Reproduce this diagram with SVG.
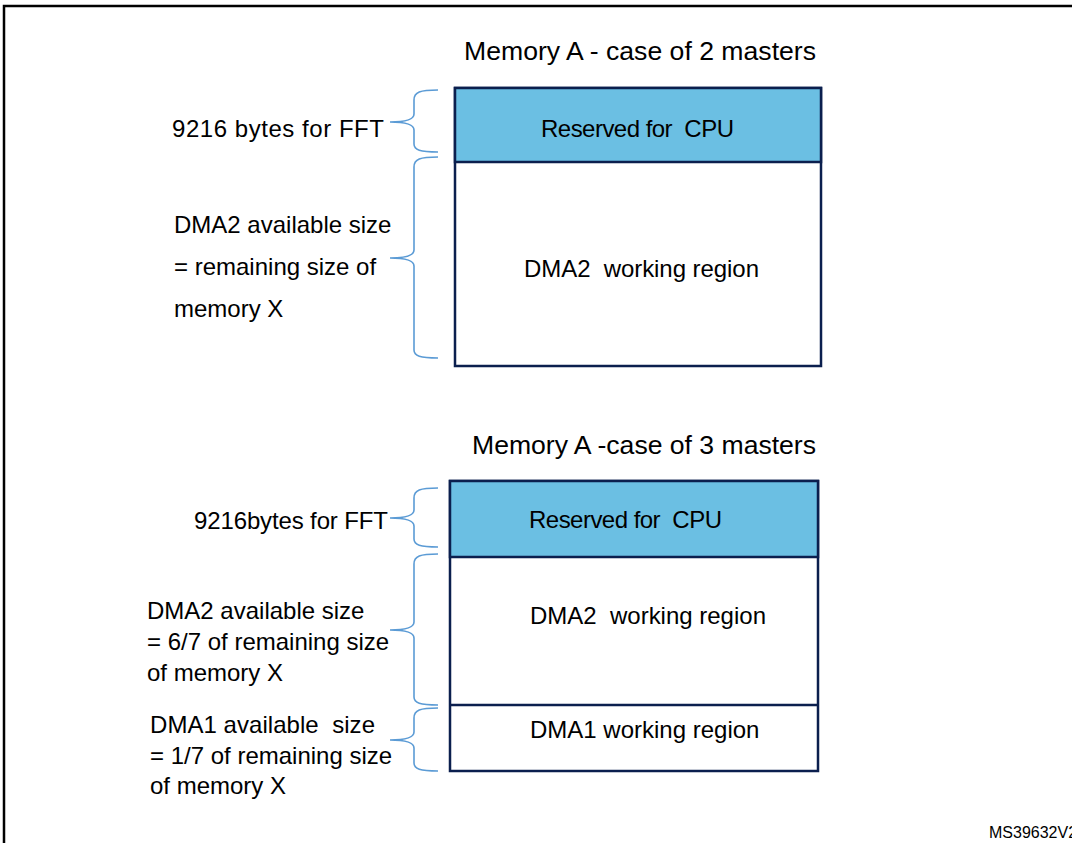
<svg xmlns="http://www.w3.org/2000/svg" width="1072" height="843" viewBox="0 0 1072 843">
<style>
text{font-family:"Liberation Sans",Arial,sans-serif;fill:#000;font-size:24px;white-space:pre}
.title{font-size:26.6px}
.small{font-size:16px}
.box{fill:#fff;stroke:#0b1f4e;stroke-width:2.5}
.cpu{fill:#6bbfe3;stroke:#0b1f4e;stroke-width:2.5}
.brace{fill:none;stroke:#5b9bd5;stroke-width:1.6}
</style>
<rect x="4" y="6" width="1200" height="900" fill="none" stroke="#000" stroke-width="2.5"/>
<g id="memA2">
<text class="title" x="464" y="60" textLength="352" xml:space="preserve">Memory A - case of 2 masters</text>
<rect class="box" x="455" y="88" width="366" height="278"/>
<rect class="cpu" x="455" y="88" width="366" height="74"/>
<text x="541" y="137" textLength="193" xml:space="preserve">Reserved for  CPU</text>
<text x="524" y="277" textLength="235" xml:space="preserve">DMA2  working region</text>
</g>
<g id="labels2">
<text x="172" y="137" textLength="212" xml:space="preserve">9216 bytes for FFT</text>
<text x="174" y="233">DMA2 available size</text>
<text x="174" y="275">= remaining size of</text>
<text x="174" y="317">memory X</text>
</g>
<g id="memA3">
<text class="title" x="472" y="454" textLength="344" xml:space="preserve">Memory A -case of 3 masters</text>
<rect class="box" x="450" y="481" width="368" height="290"/>
<rect class="cpu" x="450" y="481" width="368" height="76"/>
<line x1="450" y1="705" x2="818" y2="705" stroke="#0b1f4e" stroke-width="2.5"/>
<text x="529" y="528" textLength="193" xml:space="preserve">Reserved for  CPU</text>
<text x="530" y="624" textLength="236" xml:space="preserve">DMA2  working region</text>
<text x="530" y="738">DMA1 working region</text>
</g>
<g id="labels3">
<text x="194" y="529" textLength="194">9216bytes for FFT</text>
<text x="147" y="619">DMA2 available size</text>
<text x="147" y="650">= 6/7 of remaining size</text>
<text x="147" y="681">of memory X</text>
<text x="150" y="733" textLength="225" xml:space="preserve">DMA1 available  size</text>
<text x="150" y="764">= 1/7 of remaining size</text>
<text x="150" y="794">of memory X</text>
</g>
<g id="connectors">
<path class="brace" d="M438,90 C420,90 414,92 414,100 L414,114 C414,120 405,122 390,122 C405,122 414,124 414,130 L414,144 C414,150 420,152 438,152"/>
<path class="brace" d="M438,157 C420,157 414,159 414,167 L414,250 C414,256 405,258 390,258 C405,258 414,260 414,266 L414,350 C414,356 420,358 438,358"/>
<path class="brace" d="M438,488 C420,488 414,490 414,498 L414,510 C414,516 405,518 390,518 C405,518 414,520 414,526 L414,539 C414,545 420,547 438,547"/>
<path class="brace" d="M438,554 C420,554 414,556 414,564 L414,622 C414,628 405,630 390,630 C405,630 414,632 414,638 L414,697 C414,703 420,705 438,705"/>
<path class="brace" d="M438,708 C420,708 414,710 414,718 L414,732 C414,738 405,740 390,740 C405,740 414,742 414,748 L414,763 C414,769 420,771 438,771"/>
</g>
<text class="small" x="989" y="838">MS39632V2</text>
</svg>
